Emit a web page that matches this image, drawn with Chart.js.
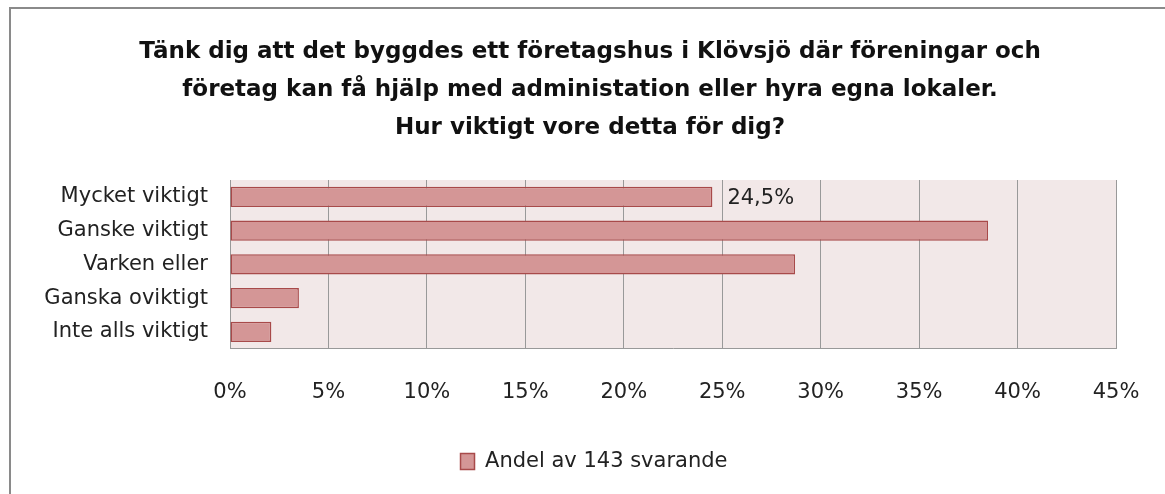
<!DOCTYPE html>
<html>
<head>
<meta charset="utf-8">
<script src="https://cdn.jsdelivr.net/npm/chart.js@4"></script>
<style>
  html, body { margin: 0; padding: 0; background: #fff; }
  #wrap { width: 1165px; height: 494px; }
</style>
</head>
<body>
<div id="wrap"><canvas id="chart"></canvas></div>
<script>
// data
const titleLines = [
  "Tänk dig att det byggdes ett företagshus i Klövsjö där föreningar och",
  "företag kan få hjälp med administation eller hyra egna lokaler.",
  "Hur viktigt vore detta för dig?"
];
const categories = ["Mycket viktigt", "Ganske viktigt", "Varken eller", "Ganska oviktigt", "Inte alls viktigt"];
const shares = [24.5, 38.5, 28.7, 3.5, 2.1];
const seriesName = "Andel av 143 svarande";
const labeledBars = [0]; // only the first bar carries a value label
const xTicks = [0, 5, 10, 15, 20, 25, 30, 35, 40, 45];

const FONT = "'DejaVu Sans', sans-serif";

// plot background + outer frame (the frame runs past the right/bottom edge)
const frame = {
  id: "frame",
  beforeDraw(chart) {
    const { ctx, chartArea: a } = chart;
    ctx.save();
    ctx.fillStyle = "#fff";
    ctx.fillRect(0, 0, chart.width, chart.height);
    ctx.fillStyle = "#F2E8E8";
    ctx.fillRect(a.left, a.top, a.right - a.left, a.bottom - a.top);
    ctx.strokeStyle = "#8a8a8a";
    ctx.lineWidth = 2;
    ctx.strokeRect(10, 8, chart.width + 20, chart.height + 20);
    ctx.restore();
  }
};

// title centred on the whole frame, not on the plot
const titleBlock = {
  id: "titleBlock",
  afterDraw(chart) {
    const { ctx } = chart;
    ctx.save();
    ctx.font = "bold 23px " + FONT;
    ctx.fillStyle = "#111";
    ctx.textAlign = "center";
    ctx.textBaseline = "middle";
    titleLines.forEach((line, i) => ctx.fillText(line, 590, 52 + i * 38));
    ctx.restore();
  }
};

// legend sits centred on the frame too, a bit right of the plot centre
const legendShift = {
  id: "legendShift",
  afterLayout(chart) {
    chart.legend.left += 31;
    chart.legend.right += 31;
  }
};

// value label after the bar
const valueLabels = {
  id: "valueLabels",
  afterDatasetsDraw(chart) {
    const { ctx } = chart;
    const meta = chart.getDatasetMeta(0);
    ctx.save();
    ctx.font = "21px " + FONT;
    ctx.fillStyle = "#222";
    ctx.textAlign = "left";
    ctx.textBaseline = "middle";
    labeledBars.forEach(i => {
      const bar = meta.data[i];
      const txt = shares[i].toFixed(1).replace(".", ",") + "%";
      ctx.fillText(txt, bar.x + 15, bar.y + 2);
    });
    ctx.restore();
  }
};

new Chart(document.getElementById("chart"), {
  type: "bar",
  data: {
    labels: categories,
    datasets: [{
      label: seriesName,
      data: shares,
      backgroundColor: "#D49696",
      borderColor: "#A84A4A",
      borderWidth: 1.5,
      borderSkipped: false,
      barPercentage: 0.6,
      categoryPercentage: 1
    }]
  },
  options: {
    indexAxis: "y",
    responsive: true,
    maintainAspectRatio: false,
    animation: false,
    layout: { padding: { top: 180, left: 10, right: 49, bottom: 12 } },
    plugins: {
      title: { display: false },
      legend: {
        position: "bottom",
        labels: {
          color: "#222",
          font: { family: FONT, size: 21 },
          boxWidth: 14,
          boxHeight: 16,
          padding: 15
        }
      },
      tooltip: { enabled: false }
    },
    scales: {
      x: {
        min: 0,
        max: 45,
        afterBuildTicks(scale) { scale.ticks = xTicks.map(v => ({ value: v })); },
        afterFit(scale) { scale.paddingLeft = 0; scale.paddingRight = 0; },
        ticks: {
          color: "#222",
          font: { family: FONT, size: 21 },
          padding: 31,
          callback: v => v + "%"
        },
        grid: { color: "#999", lineWidth: 1, drawTicks: false },
        border: { color: "#999" }
      },
      y: {
        afterFit(scale) { scale.width = 220; },
        ticks: {
          color: "#222",
          font: { family: FONT, size: 21 },
          padding: 22
        },
        grid: { display: false, drawTicks: false },
        border: { color: "#999" }
      }
    }
  },
  plugins: [frame, valueLabels, titleBlock, legendShift]
});
</script>
</body>
</html>
